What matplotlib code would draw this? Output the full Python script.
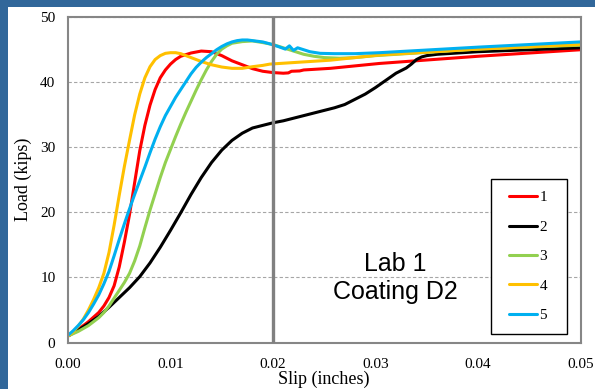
import matplotlib
matplotlib.use('Agg')
import matplotlib.pyplot as plt
from matplotlib.patches import Rectangle

# slip (in) / load (kips), one pair of lists per specimen
x1 = [0, 0.001, 0.002, 0.003, 0.0035, 0.004, 0.0045, 0.005, 0.0055, 0.006, 0.0065, 0.007,
      0.0075, 0.008, 0.0085, 0.009, 0.0095, 0.01, 0.0105, 0.011, 0.012, 0.013, 0.014, 0.015,
      0.016, 0.017, 0.018, 0.019, 0.02, 0.021, 0.0215, 0.0218, 0.0226, 0.023, 0.0256, 0.0304,
      0.04, 0.05]
y1 = [1.0, 2.0, 3.2, 4.6, 5.6, 6.9, 8.7, 11.6, 15.4, 19.6, 24.5, 29.4,
      33.3, 36.4, 38.8, 40.6, 41.8, 42.7, 43.4, 43.9, 44.4, 44.7, 44.6, 44.0,
      43.2, 42.6, 42.0, 41.6, 41.4, 41.3, 41.35, 41.6, 41.65, 41.8, 42.05, 42.8,
      43.9, 44.9]

x2 = [0, 0.001, 0.002, 0.003, 0.004, 0.005, 0.006, 0.007, 0.008, 0.009, 0.01, 0.011,
      0.012, 0.013, 0.014, 0.015, 0.016, 0.017, 0.018, 0.019, 0.02, 0.021, 0.022, 0.023,
      0.024, 0.025, 0.026, 0.027, 0.0275, 0.028, 0.029, 0.03, 0.031, 0.032, 0.033, 0.0335,
      0.034, 0.0345, 0.035, 0.036, 0.038, 0.04, 0.045, 0.05]
y2 = [1.0, 1.9, 2.9, 4.0, 5.4, 6.9, 8.4, 10.1, 12.2, 14.6, 17.2, 19.9,
      22.7, 25.3, 27.6, 29.5, 31.0, 32.1, 32.9, 33.3, 33.7, 34.0, 34.4, 34.8,
      35.2, 35.6, 36.0, 36.5, 36.9, 37.3, 38.1, 39.1, 40.2, 41.3, 42.1, 42.7,
      43.4, 43.8, 44.0, 44.2, 44.4, 44.6, 44.9, 45.2]

x3 = [0, 0.001, 0.002, 0.003, 0.0035, 0.004, 0.0045, 0.005, 0.0055, 0.006, 0.0065, 0.007,
      0.0075, 0.008, 0.0085, 0.009, 0.0095, 0.01, 0.0105, 0.011, 0.0115, 0.012, 0.0125, 0.013,
      0.0135, 0.014, 0.0145, 0.015, 0.0155, 0.016, 0.017, 0.018, 0.019, 0.02, 0.021, 0.022,
      0.023, 0.024, 0.025, 0.0265, 0.028, 0.03, 0.04, 0.05]
y3 = [1.0, 1.7, 2.6, 3.8, 4.6, 5.6, 6.8, 8.0, 9.2, 10.6, 12.5, 14.8,
      17.6, 20.3, 22.8, 25.3, 27.6, 29.6, 31.6, 33.5, 35.3, 37.0, 38.7, 40.3,
      41.8, 43.1, 44.2, 45.0, 45.5, 45.9, 46.15, 46.25, 46.0, 45.7, 45.2, 44.7,
      44.2, 43.9, 43.7, 43.6, 43.7, 44.0, 45.0, 45.6]

x4 = [0, 0.0005, 0.001, 0.0015, 0.002, 0.0025, 0.003, 0.0035, 0.004, 0.0045, 0.005, 0.0055,
      0.006, 0.0065, 0.007, 0.0075, 0.008, 0.0085, 0.009, 0.0095, 0.01, 0.0105, 0.011, 0.012,
      0.013, 0.014, 0.015, 0.016, 0.017, 0.018, 0.019, 0.0197, 0.0256, 0.0304, 0.04, 0.05]
y4 = [1.0, 1.6, 2.5, 3.6, 5.0, 6.6, 8.4, 10.6, 13.8, 18.0, 22.6, 27.0,
      31.0, 34.9, 38.1, 40.6, 42.3, 43.4, 44.0, 44.35, 44.45, 44.45, 44.3, 43.7,
      43.1, 42.6, 42.25, 42.05, 42.05, 42.3, 42.5, 42.7, 43.3, 44.1, 45.0, 45.7]

x5 = [0, 0.0005, 0.001, 0.0015, 0.002, 0.0025, 0.003, 0.0035, 0.004, 0.0045, 0.005, 0.0055,
      0.006, 0.0065, 0.007, 0.0075, 0.008, 0.0085, 0.009, 0.0095, 0.01, 0.0105, 0.011, 0.0115,
      0.012, 0.0125, 0.013, 0.0135, 0.014, 0.0145, 0.015, 0.0155, 0.016, 0.0165, 0.017, 0.0175,
      0.018, 0.019, 0.0197, 0.0205, 0.0212, 0.0216, 0.022, 0.0224, 0.0228, 0.0236, 0.0246, 0.026,
      0.028, 0.0304, 0.04, 0.05]
y5 = [1.1, 1.8, 2.6, 3.5, 4.6, 5.9, 7.3, 9.0, 10.9, 13.3, 15.8, 18.2,
      20.5, 22.7, 24.8, 26.9, 29.1, 31.2, 33.1, 34.8, 36.2, 37.6, 38.8, 40.0,
      41.2, 42.2, 43.0, 43.7, 44.3, 44.9, 45.4, 45.8, 46.1, 46.3, 46.4, 46.4,
      46.3, 46.1, 45.8, 45.4, 45.0, 45.5, 44.8, 45.2, 45.0, 44.6, 44.35, 44.3,
      44.3, 44.45, 45.3, 46.1]

labels = ['1', '2', '3', '4', '5']
colors = ['#FF0000', '#000000', '#92D050', '#FFC000', '#00B0F0']
xticks = [0.00, 0.01, 0.02, 0.03, 0.04, 0.05]
yticks = [0, 10, 20, 30, 40, 50]

serif = 'Liberation Serif'

fig = plt.figure(figsize=(5.95, 3.89), dpi=100)
# blue slide frame on top and left
fig.patches.append(Rectangle((0, 0), 8 / 595, 1, transform=fig.transFigure,
                             facecolor='#31679A', edgecolor='none', zorder=0))
fig.patches.append(Rectangle((0, 1 - 7 / 389), 1, 7 / 389, transform=fig.transFigure,
                             facecolor='#31679A', edgecolor='none', zorder=0))

ax = fig.add_axes([68 / 595, 46.5 / 389, 512.5 / 595, 326 / 389])

for xs, ys, c, lab in zip([x1, x2, x3, x4, x5], [y1, y2, y3, y4, y5], colors, labels):
    ax.plot(xs, ys, color=c, lw=2.2, label=lab, solid_capstyle='round', solid_joinstyle='round')

ax.axvline(0.02, color='#808080', lw=2.4, zorder=5)

ax.set_xlim(0, 0.05)
ax.set_ylim(0, 50)
ax.set_xticks(xticks)
ax.set_xticklabels(['%.2f' % t for t in xticks])
ax.set_yticks(yticks)
ax.tick_params(length=0, labelsize=11, labelfontfamily=serif)
ax.tick_params(axis='x', pad=11)
ax.tick_params(axis='y', pad=9)
ax.grid(axis='y', linestyle=(0, (3, 2)), color='#A6A6A6', lw=0.8)
ax.set_axisbelow(True)
for s in ax.spines.values():
    s.set_color('#868686')
    s.set_linewidth(1.5)

ax.set_xlabel('Slip (inches)', fontsize=13, family=serif, labelpad=0)
ax.set_ylabel('Load (kips)', fontsize=13, family=serif, labelpad=6)

ax.text(0.638, 0.199, 'Lab 1\nCoating D2', transform=ax.transAxes, ha='center', va='center',
        multialignment='center', fontsize=18, family='Liberation Sans', linespacing=1.2)

# legend box drawn by hand so its padding matches the reference
ax.add_patch(Rectangle((0.825, 0.026), 0.149, 0.4755, transform=ax.transAxes,
                       facecolor='white', edgecolor='black', lw=1, zorder=6))
leg = ax.legend(loc='center', bbox_to_anchor=(0.8976, 0.264), frameon=False,
                prop={'family': serif, 'size': 11}, labelspacing=1.03,
                handlelength=1.83, handletextpad=0.15, borderpad=0)
leg.set_zorder(7)

fig.savefig('out.png', dpi=100)
